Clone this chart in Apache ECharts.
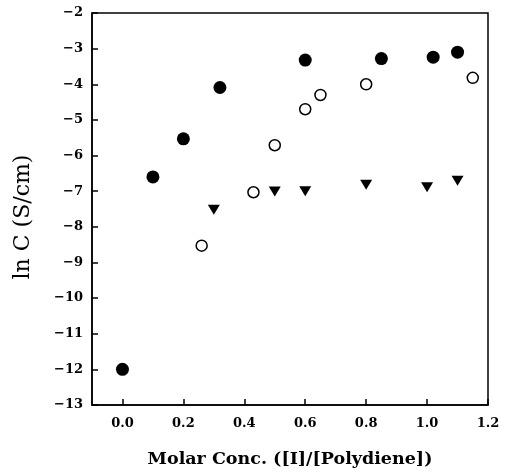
<!DOCTYPE html>
<html>
<head>
<meta charset="utf-8">
<script src="https://cdn.jsdelivr.net/npm/echarts@6/dist/echarts.min.js"></script>
<style>
  html, body { margin: 0; padding: 0; background: #fff; }
  #chart { width: 513px; height: 473px; }
</style>
</head>
<body>
<div id="chart"></div>
<script>
// filled circles
const filledX = [0.0, 0.1, 0.2, 0.32, 0.6, 0.85, 1.02, 1.1];
const filledY = [-12.0, -6.6, -5.53, -4.09, -3.32, -3.28, -3.24, -3.1];
// open circles
const openX = [0.26, 0.43, 0.5, 0.6, 0.65, 0.8, 1.15];
const openY = [-8.53, -7.03, -5.71, -4.7, -4.3, -4.0, -3.82];
// down triangles
const triX = [0.3, 0.5, 0.6, 0.8, 1.0, 1.1];
const triY = [-7.52, -7.01, -7.0, -6.82, -6.89, -6.71];

const xTicks = [0.0, 0.2, 0.4, 0.6, 0.8, 1.0, 1.2];

const font = 'DejaVu Serif';
const pair = (xs, ys) => xs.map((x, i) => [x, ys[i]]);

const chart = echarts.init(document.getElementById('chart'), null, { renderer: 'canvas' });

chart.setOption({
    backgroundColor: '#FFFFFF',
    animation: false,
    grid: {
        left: 92, top: 13, right: 25, bottom: 66,
        show: true,
        borderColor: '#000',
        borderWidth: 1.5,
    },
    xAxis: {
        type: 'value',
        min: -0.1,
        max: 1.2,
        name: 'Molar Conc. ([I]/[Polydiene])',
        nameLocation: 'middle',
        nameGap: 45,
        nameTextStyle: { fontFamily: font, fontSize: 17.5, fontWeight: 'bold', color: '#000' },
        axisLine: { show: true, onZero: false, lineStyle: { color: '#000', width: 1.5 } },
        axisTick: { show: true, inside: true, length: 6, customValues: xTicks, lineStyle: { color: '#000', width: 1.5 } },
        axisLabel: {
            customValues: xTicks,
            margin: 12,
            fontFamily: font, fontSize: 13, fontWeight: 'bold', color: '#000',
            formatter: (v) => v.toFixed(1),
        },
        splitLine: { show: false },
    },
    yAxis: {
        type: 'value',
        min: -13,
        max: -2,
        interval: 1,
        name: 'ln C (S/cm)',
        nameLocation: 'middle',
        nameGap: 58,
        nameTextStyle: { fontFamily: font, fontSize: 22, color: '#000', padding: [0, 0, 0, -16] },
        axisLine: { show: true, onZero: false, lineStyle: { color: '#000', width: 1.5 } },
        axisTick: { show: true, inside: true, length: 6, lineStyle: { color: '#000', width: 1.5 } },
        axisLabel: {
            margin: 9,
            fontFamily: font, fontSize: 13, fontWeight: 'bold', color: '#000',
            formatter: (v) => String(v).replace('-', '\u2212'),
        },
        splitLine: { show: false },
    },
    series: [
        {
            type: 'scatter',
            data: pair(filledX, filledY),
            symbol: 'circle',
            symbolSize: 13,
            itemStyle: { color: '#000', opacity: 1 },
        },
        {
            type: 'scatter',
            data: pair(openX, openY),
            symbol: 'circle',
            symbolSize: 11,
            itemStyle: { color: '#fff', borderColor: '#000', borderWidth: 1.5, opacity: 1 },
        },
        {
            type: 'scatter',
            data: pair(triX, triY),
            symbol: 'triangle',
            symbolRotate: 180,
            symbolSize: [12, 10],
            itemStyle: { color: '#000', opacity: 1 },
        },
    ],
});
</script>
</body>
</html>
